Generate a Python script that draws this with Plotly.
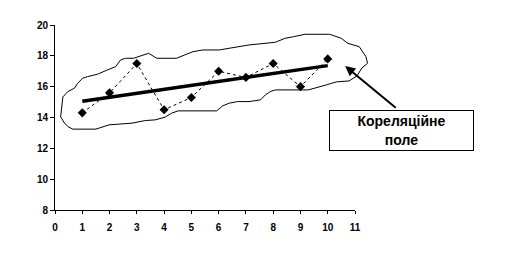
import numpy as np
import plotly.graph_objects as go

# data
x_vals = [1, 2, 3, 4, 5, 6, 7, 8, 9, 10]
y_vals = [14.3, 15.6, 17.5, 14.5, 15.3, 17.0, 16.6, 17.5, 16.0, 17.8]
x_ticks = list(range(0, 12))
y_ticks = list(range(8, 21, 2))

# hand-drawn outline of the correlation field (data units)
blob_x = [0.206, 0.254, 0.290, 0.471, 0.714, 0.833, 1.014, 1.195, 1.557, 1.920,
          2.224, 2.405, 2.586, 2.887, 3.249, 3.430, 3.731, 4.455, 4.759, 5.060,
          5.422, 6.027, 6.389, 6.690, 7.113, 8.077, 8.439, 8.743, 9.163, 10.069,
          10.493, 10.735, 11.155, 11.398, 11.460, 11.253, 11.072, 10.782, 10.311, 9.949,
          9.526, 9.287, 8.077, 7.896, 7.715, 7.533, 7.113, 6.690, 6.389, 6.146,
          5.929, 5.121, 4.516, 4.274, 4.035, 3.673, 3.310, 2.825, 2.224, 1.981,
          1.499, 0.652, 0.471, 0.351, 0.206]
blob_py = [117, 105, 97, 91.7, 88.3, 83.3, 78.3, 76.7, 74.3, 70,
           66.7, 60, 58.3, 58.3, 55, 53.3, 58.3, 58.3, 55, 51.7,
           50, 50, 48.3, 46.7, 45, 42.3, 38.3, 36.7, 34.3, 34.3,
           38.3, 43.3, 46.7, 56.7, 63.3, 68, 76, 81, 82, 85,
           88.3, 90, 90, 91.7, 95, 100, 101.7, 101.7, 103.3, 106,
           111, 111, 111, 113.3, 117.3, 120, 120.7, 123.3, 124, 125,
           129.3, 129.3, 126.7, 123.3, 117]
blob_y = [round(20 - (p - 25) / 15.44, 3) for p in blob_py]

label_text = "Кореляційне<br>поле"

FONT = "Liberation Sans, Arial, sans-serif"

slope, intercept = np.polyfit(x_vals, y_vals, 1)
trend_x = [x_vals[0], x_vals[-1]]
trend_y = [slope * x + intercept for x in trend_x]

dom_end = 0.6623
x2_max = 11 / dom_end

fig = go.Figure()

fig.add_trace(go.Scatter(
    x=blob_x, y=blob_y, xaxis="x2", yaxis="y", mode="lines",
    line=dict(color="black", width=1), hoverinfo="skip", showlegend=False))

fig.add_trace(go.Scatter(
    x=x_vals, y=y_vals, mode="lines+markers",
    line=dict(color="black", width=1, dash="3px,3px"),
    marker=dict(symbol="diamond", size=7, color="black"),
    showlegend=False))

fig.add_trace(go.Scatter(
    x=trend_x, y=trend_y, mode="lines",
    line=dict(color="black", width=3.5), showlegend=False))

fig.update_layout(
    width=524, height=274,
    margin=dict(l=55, r=10, t=25, b=64),
    paper_bgcolor="white", plot_bgcolor="rgba(0,0,0,0)",
    font=dict(family=FONT, size=10, color="black"),
    xaxis=dict(domain=[0, dom_end], range=[0, 11], tickvals=x_ticks,
               showgrid=False, zeroline=False, showline=True,
               linecolor="black", linewidth=1, ticks="outside", ticklen=3,
               tickcolor="black", ticklabelstandoff=5,
               tickfont=dict(family=FONT, size=10, color="black", weight="bold")),
    xaxis2=dict(domain=[0, 1], range=[0, x2_max], anchor="y", visible=False,
                showgrid=False, zeroline=False),
    yaxis=dict(range=[8, 20], tickvals=y_ticks, showgrid=False, zeroline=False,
               showline=True, linecolor="black", linewidth=1, ticks="outside",
               ticklen=4, tickcolor="black",
               tickfont=dict(family=FONT, size=10, color="black", weight="bold")),
)

# arrow
fig.add_annotation(
    x=10.64, y=17.34, xref="x2", yref="y", text="", showarrow=True,
    arrowhead=2, arrowsize=1, arrowwidth=2, arrowcolor="black",
    ax=52, ay=43)

# label box
fig.add_annotation(
    x=12.72, y=13.17, xref="x2", yref="y", text="<b>" + label_text + "</b>",
    showarrow=False, font=dict(family=FONT, size=14, color="black"),
    bordercolor="black", borderwidth=1, borderpad=1, bgcolor="white",
    width=141, height=37, align="center")

fig.write_html("out.html")
